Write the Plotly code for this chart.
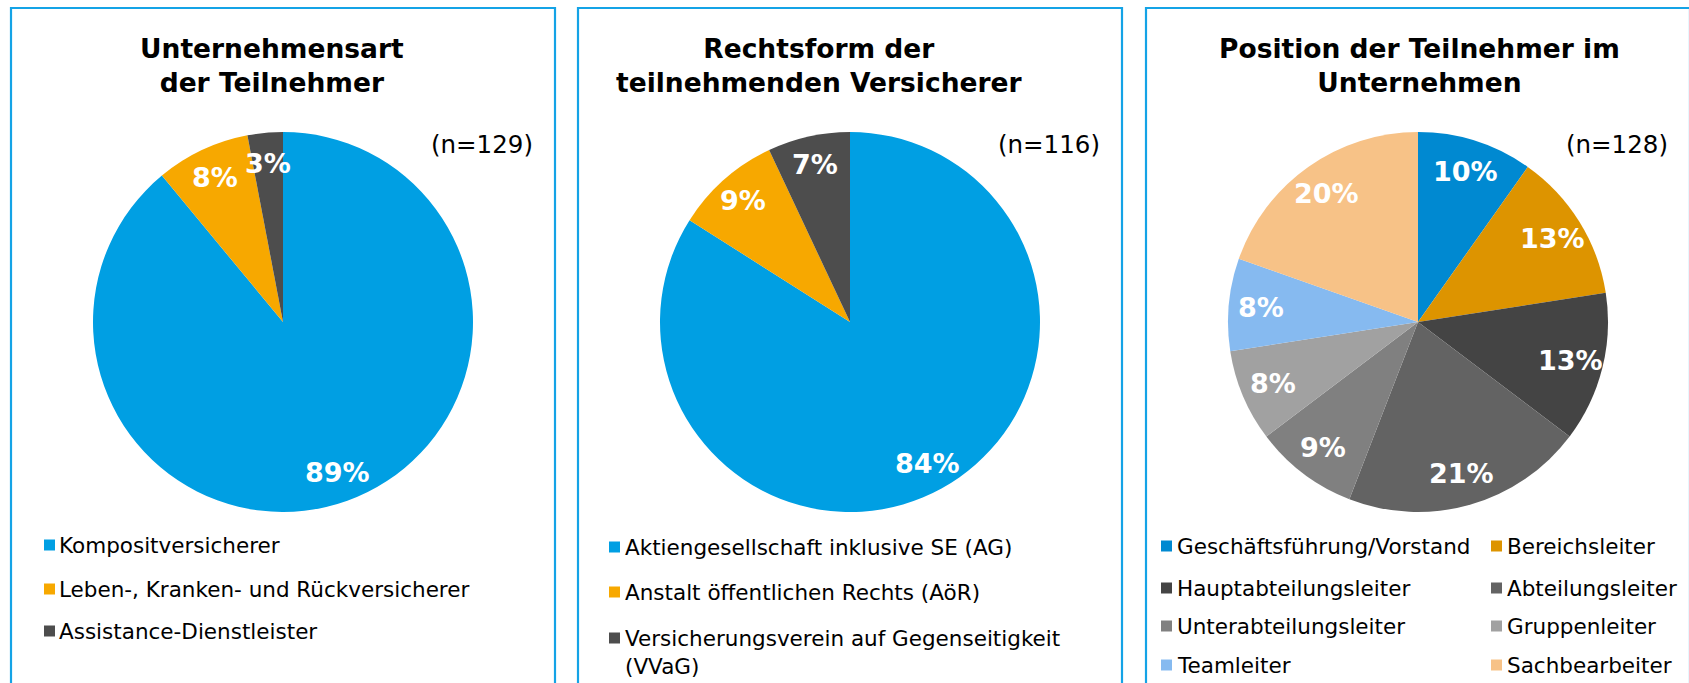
import math
import textwrap
import plotly.graph_objects as go

# ---------------- data ----------------
titles = ["Unternehmensart<br>der Teilnehmer",
          "Rechtsform der<br>teilnehmenden Versicherer",
          "Position der Teilnehmer im<br>Unternehmen"]
sample_sizes = [129, 116, 128]

art_labels = ["Kompositversicherer", "Leben-, Kranken- und Rückversicherer",
              "Assistance-Dienstleister"]
art_values = [89, 8, 3]

form_labels = ["Aktiengesellschaft inklusive SE (AG)",
               "Anstalt öffentlichen Rechts (AöR)",
               "Versicherungsverein auf Gegenseitigkeit (VVaG)"]
form_values = [84, 9, 7]

pos_labels = ["Geschäftsführung/Vorstand", "Bereichsleiter", "Hauptabteilungsleiter",
              "Abteilungsleiter", "Unterabteilungsleiter", "Gruppenleiter",
              "Teamleiter", "Sachbearbeiter"]
pos_values = [10, 13, 13, 21, 9, 8, 8, 20]

# ---------------- styles ----------------
art_colors = ["#009FE3", "#F7A800", "#4D4D4D"]
form_colors = ["#009FE3", "#F7A800", "#4D4D4D"]
pos_colors = ["#0089D1", "#DD9400", "#444444", "#636363", "#808080", "#A1A1A1",
              "#86BAF0", "#F7C287"]

W, H = 1689, 683
FONT = "DejaVu Sans"
BORDER = "#14A3E6"

def fx(x):
    return x / W

def fy(y):
    return 1 - y / H

panels = [(11, 555), (578, 1122), (1146, 1690)]
centers_x = [283, 850, 1418]
title_x = [272, 819, 1419]
CY, R = 322, 190

fig = go.Figure()
annotations = []
shapes = []

pies = [(art_labels, art_values, art_colors),
        (form_labels, form_values, form_colors),
        (pos_labels, pos_values, pos_colors)]
label_rfrac = [0.84, 0.85, 0.83]

for i, (labels, values, colors) in enumerate(pies):
    cx = centers_x[i]
    fig.add_trace(go.Pie(
        labels=labels, values=values, sort=False, direction="clockwise", rotation=0,
        marker=dict(colors=colors, line=dict(width=0)),
        textinfo="none", hoverinfo="label+percent", showlegend=False,
        domain=dict(x=[fx(cx - R), fx(cx + R)], y=[fy(CY + R), fy(CY - R)]),
    ))
    # percentage labels placed along the slice mid-angles
    total = sum(values)
    cum = 0
    for v in values:
        mid = (cum + v / 2) / total * 2 * math.pi
        cum += v
        rr = label_rfrac[i] * R
        annotations.append(dict(
            x=fx(cx + rr * math.sin(mid)), y=fy(CY - rr * math.cos(mid)),
            xref="paper", yref="paper", text=f"<b>{v}%</b>", showarrow=False,
            xanchor="center", yanchor="middle",
            font=dict(family=FONT, size=27, color="white")))
    # panel border
    x0, x1 = panels[i]
    shapes.append(dict(type="rect", xref="paper", yref="paper",
                       x0=fx(x0), x1=fx(x1), y0=fy(H + 20), y1=fy(8),
                       line=dict(color=BORDER, width=2.2)))
    # title
    annotations.append(dict(x=fx(title_x[i]), y=fy(65.5), xref="paper", yref="paper",
                            text=f"<b>{titles[i]}</b>", showarrow=False,
                            xanchor="center", yanchor="middle",
                            font=dict(family=FONT, size=26.5, color="black")))
    # sample size
    annotations.append(dict(x=fx(x1 - 20), y=fy(144), xref="paper", yref="paper",
                            text=f"(n={sample_sizes[i]})", showarrow=False,
                            xanchor="right", yanchor="middle",
                            font=dict(family=FONT, size=24.5, color="black")))

# ---------------- legends ----------------
LEG_FONT = 21.5
SQ = 11

def legend_entry(sq_x, text_x, row_y, label, color):
    lines = textwrap.wrap(label, 40)
    shapes.append(dict(type="rect", xref="paper", yref="paper",
                       x0=fx(sq_x), x1=fx(sq_x + SQ),
                       y0=fy(row_y + SQ / 2), y1=fy(row_y - SQ / 2),
                       line=dict(width=0), fillcolor=color))
    annotations.append(dict(x=fx(text_x), y=fy(row_y - 14), xref="paper", yref="paper",
                            text="<br>".join(lines), showarrow=False,
                            xanchor="left", yanchor="top", align="left",
                            font=dict(family=FONT, size=LEG_FONT, color="black")))

rows1 = [545, 589, 631]
for lab, col, ry in zip(art_labels, art_colors, rows1):
    legend_entry(44, 57, ry, lab, col)

rows2 = [547, 592, 638]
for lab, col, ry in zip(form_labels, form_colors, rows2):
    legend_entry(609, 623, ry, lab, col)

rows3 = [546, 588, 626, 665]
cols3 = [(1161, 1175), (1491, 1505)]
for k, (lab, col) in enumerate(zip(pos_labels, pos_colors)):
    sx, tx = cols3[k % 2]
    legend_entry(sx, tx, rows3[k // 2], lab, col)

fig.update_layout(
    width=W, height=H,
    margin=dict(l=0, r=0, t=0, b=0),
    paper_bgcolor="white", plot_bgcolor="white",
    annotations=annotations, shapes=shapes,
    font=dict(family=FONT),
)

fig.write_html("out.html")
